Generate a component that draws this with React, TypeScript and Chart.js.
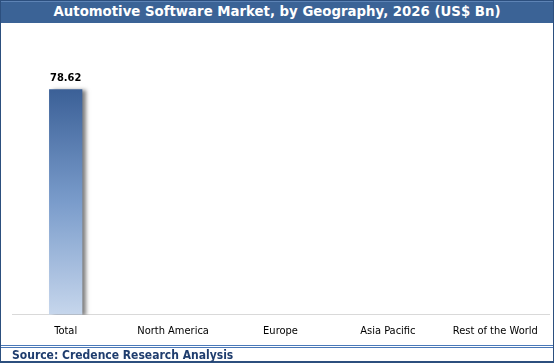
import React, { useEffect, useRef } from "react";
import { Chart, registerables } from "chart.js";

Chart.register(...registerables);

const categories = ["Total", "North America", "Europe", "Asia Pacific", "Rest of the World"];
const values: (number | null)[] = [78.62, null, null, null, null];
const yMax = 100;
const titleText = "Automotive Software Market, by Geography, 2026 (US$ Bn)";
const sourceText = "Source: Credence Research Analysis";

const FONT = "'DejaVu Sans Condensed', 'DejaVu Sans', sans-serif";

export default function App() {
  const ref = useRef<HTMLCanvasElement>(null);

  useEffect(() => {
    document.body.style.margin = "0";
    const canvas = ref.current;
    if (!canvas) return;

    const shadowPlugin = {
      id: "barShadowAndLabels",
      beforeDatasetsDraw(chart: any) {
        const c = chart.ctx;
        c.save();
        c.shadowColor = "rgba(0,0,0,0.5)";
        c.shadowBlur = 4;
        c.shadowOffsetX = 4;
        c.shadowOffsetY = 1;
      },
      afterDatasetsDraw(chart: any) {
        const c = chart.ctx;
        c.restore();
        const meta = chart.getDatasetMeta(0);
        c.save();
        c.font = `bold 11px ${FONT}`;
        c.fillStyle = "#000000";
        c.textAlign = "center";
        c.textBaseline = "bottom";
        meta.data.forEach((el: any, i: number) => {
          const v = values[i];
          if (v == null) return;
          c.fillText(v.toFixed(2), el.x, el.y - 6);
        });
        c.restore();
      },
    };

    const chart = new Chart(canvas, {
      type: "bar",
      data: {
        labels: categories,
        datasets: [
          {
            data: values as any,
            barPercentage: 0.31,
            categoryPercentage: 1,
            borderWidth: 0,
            backgroundColor: (ctx: any) => {
              const ch = ctx.chart;
              const area = ch.chartArea;
              if (!area) return "#5a7fb5";
              const v = values[ctx.dataIndex] ?? 0;
              const top = ch.scales.y.getPixelForValue(v);
              const g = ch.ctx.createLinearGradient(0, top, 0, area.bottom);
              g.addColorStop(0, "#3b6097");
              g.addColorStop(0.5, "#7a9ccb");
              g.addColorStop(1, "#c6d6ec");
              return g;
            },
          },
        ],
      },
      options: {
        responsive: false,
        animation: false,
        devicePixelRatio: 1,
        layout: { padding: { top: 5, left: 11, right: 4, bottom: 0 } },
        plugins: {
          legend: { display: false },
          title: { display: false },
          tooltip: { enabled: false },
        },
        scales: {
          x: {
            grid: { display: false, drawTicks: false },
            border: { display: true, color: "#d9d9d9", width: 1 },
            ticks: {
              color: "#000000",
              padding: 10,
              font: { family: FONT, size: 11 },
              maxRotation: 0,
              autoSkip: false,
            },
          },
          y: {
            display: false,
            min: 0,
            max: yMax,
          },
        },
      },
      plugins: [shadowPlugin],
    });

    return () => chart.destroy();
  }, []);

  return (
    <div
      style={{
        position: "fixed",
        left: 0,
        top: 0,
        width: 554,
        height: 363,
        background: "#ffffff",
        overflow: "hidden",
      }}
    >
      <canvas
        ref={ref}
        width={552}
        height={325}
        style={{ position: "absolute", left: 1, top: 23, width: 552, height: 325 }}
      />
      {/* outer frame */}
      <div
        style={{
          position: "absolute",
          left: 0,
          top: 0,
          width: 554,
          height: 363,
          boxSizing: "border-box",
          border: "1px solid #2c4f7e",
          borderBottomWidth: 2,
        }}
      />
      {/* title bar */}
      <div
        style={{
          position: "absolute",
          left: 1,
          top: 1,
          width: 552,
          height: 22,
          background: "#3b6396",
          borderTop: "1px solid #5d83b5",
          boxSizing: "border-box",
          color: "#ffffff",
          fontFamily: "'DejaVu Sans', sans-serif",
          fontWeight: "bold",
          fontSize: 13.3,
          lineHeight: "20px",
          textAlign: "center",
          whiteSpace: "nowrap",
        }}
      >
        {titleText}
      </div>
      {/* footer separator double line */}
      <div style={{ position: "absolute", left: 1, top: 344, width: 552, height: 4, background: "#ffffff" }} />
      <div style={{ position: "absolute", left: 1, top: 345, width: 552, height: 1, background: "#4a78b8" }} />
      <div style={{ position: "absolute", left: 1, top: 347, width: 552, height: 1, background: "#4a78b8" }} />
      <div
        style={{
          position: "absolute",
          left: 12,
          top: 348,
          height: 14,
          lineHeight: "14px",
          color: "#1f3d6e",
          fontFamily: FONT,
          fontWeight: "bold",
          fontSize: 12,
          whiteSpace: "nowrap",
        }}
      >
        {sourceText}
      </div>
    </div>
  );
}
